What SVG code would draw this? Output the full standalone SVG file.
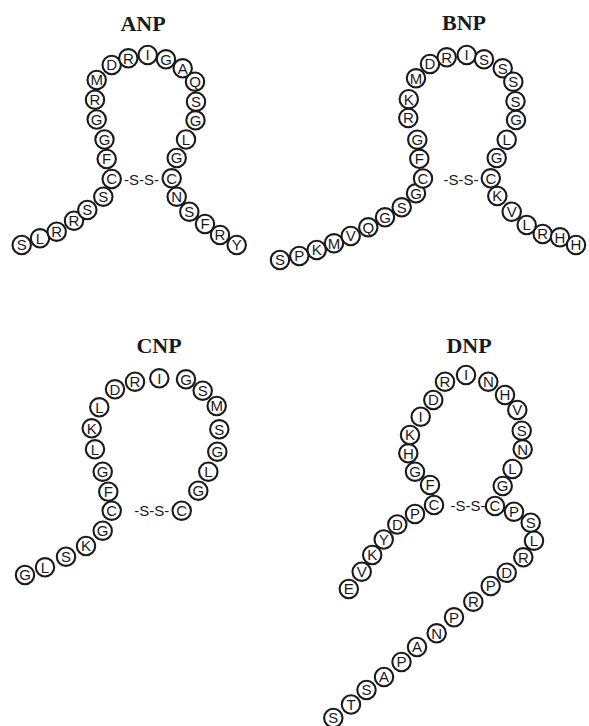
<svg xmlns="http://www.w3.org/2000/svg" width="589" height="726" viewBox="0 0 589 726">
<style>
.r circle{fill:#fff;stroke:#1a1a1a;stroke-width:2.1}
.r text{font-family:"Liberation Sans",Arial,sans-serif;font-size:15px;text-anchor:middle;fill:#1a1a1a}
.t{font-family:"Liberation Serif","Times New Roman",serif;font-weight:bold;font-size:22px;text-anchor:middle;fill:#1a1a1a}
.ss{font-family:"Liberation Sans",Arial,sans-serif;font-size:15px;text-anchor:middle;fill:#1a1a1a}
</style>
<rect width="589" height="726" fill="#fff"/>
<g id="titles">
<text class="t" x="143" y="31">ANP</text>
<text class="t" x="464" y="30">BNP</text>
<text class="t" x="159" y="353">CNP</text>
<text class="t" x="469" y="353">DNP</text>
</g>
<g id="connectors">
<text class="ss" x="141.5" y="184.5">-S-S-</text>
<text class="ss" x="461" y="184.5">-S-S-</text>
<text class="ss" x="151.7" y="516">-S-S-</text>
<text class="ss" x="468" y="510.5">-S-S-</text>
</g>
<g id="ANP">
<g id="anp-01" class="r"><circle cx="21.7" cy="245" r="9.2"/><text x="21.7" y="250.4">S</text></g>
<g id="anp-02" class="r"><circle cx="40" cy="238.3" r="9.2"/><text x="40" y="243.7">L</text></g>
<g id="anp-03" class="r"><circle cx="56.7" cy="231.7" r="9.2"/><text x="56.7" y="237.1">R</text></g>
<g id="anp-04" class="r"><circle cx="74" cy="220.7" r="9.2"/><text x="74" y="226.1">R</text></g>
<g id="anp-05" class="r"><circle cx="87.3" cy="210" r="9.2"/><text x="87.3" y="215.4">S</text></g>
<g id="anp-06" class="r"><circle cx="103.3" cy="196.7" r="9.2"/><text x="103.3" y="202.1">S</text></g>
<g id="anp-07" class="r"><circle cx="111.7" cy="179" r="9.2"/><text x="111.7" y="184.4">C</text></g>
<g id="anp-08" class="r"><circle cx="106.7" cy="159" r="9.2"/><text x="106.7" y="164.4">F</text></g>
<g id="anp-09" class="r"><circle cx="104.5" cy="139.5" r="9.2"/><text x="104.5" y="144.9">G</text></g>
<g id="anp-10" class="r"><circle cx="96.7" cy="119.5" r="9.2"/><text x="96.7" y="124.9">G</text></g>
<g id="anp-11" class="r"><circle cx="95" cy="99.7" r="9.2"/><text x="95" y="105.1">R</text></g>
<g id="anp-12" class="r"><circle cx="96.7" cy="80" r="9.2"/><text x="96.7" y="85.4">M</text></g>
<g id="anp-13" class="r"><circle cx="111.7" cy="65" r="9.2"/><text x="111.7" y="70.4">D</text></g>
<g id="anp-14" class="r"><circle cx="128.3" cy="58.3" r="9.2"/><text x="128.3" y="63.7">R</text></g>
<g id="anp-15" class="r"><circle cx="147.7" cy="55" r="9.2"/><text x="147.7" y="60.4">I</text></g>
<g id="anp-16" class="r"><circle cx="166" cy="59.3" r="9.2"/><text x="166" y="64.7">G</text></g>
<g id="anp-17" class="r"><circle cx="182.7" cy="68.3" r="9.2"/><text x="182.7" y="73.7">A</text></g>
<g id="anp-18" class="r"><circle cx="195" cy="81.7" r="9.2"/><text x="195" y="87.1">Q</text></g>
<g id="anp-19" class="r"><circle cx="196" cy="101.7" r="9.2"/><text x="196" y="107.1">S</text></g>
<g id="anp-20" class="r"><circle cx="195.5" cy="120.3" r="9.2"/><text x="195.5" y="125.7">G</text></g>
<g id="anp-21" class="r"><circle cx="186" cy="139.5" r="9.2"/><text x="186" y="144.9">L</text></g>
<g id="anp-22" class="r"><circle cx="176.7" cy="158" r="9.2"/><text x="176.7" y="163.4">G</text></g>
<g id="anp-23" class="r"><circle cx="171.7" cy="178.3" r="9.2"/><text x="171.7" y="183.7">C</text></g>
<g id="anp-24" class="r"><circle cx="176.7" cy="196.7" r="9.2"/><text x="176.7" y="202.1">N</text></g>
<g id="anp-25" class="r"><circle cx="189.3" cy="211.7" r="9.2"/><text x="189.3" y="217.1">S</text></g>
<g id="anp-26" class="r"><circle cx="205" cy="224" r="9.2"/><text x="205" y="229.4">F</text></g>
<g id="anp-27" class="r"><circle cx="220" cy="235" r="9.2"/><text x="220" y="240.4">R</text></g>
<g id="anp-28" class="r"><circle cx="236.7" cy="245" r="9.2"/><text x="236.7" y="250.4">Y</text></g>
</g>
<g id="BNP">
<g id="bnp-01" class="r"><circle cx="280" cy="260" r="9.2"/><text x="280" y="265.4">S</text></g>
<g id="bnp-02" class="r"><circle cx="299.3" cy="256" r="9.2"/><text x="299.3" y="261.4">P</text></g>
<g id="bnp-03" class="r"><circle cx="316.7" cy="250" r="9.2"/><text x="316.7" y="255.4">K</text></g>
<g id="bnp-04" class="r"><circle cx="334" cy="243.3" r="9.2"/><text x="334" y="248.7">M</text></g>
<g id="bnp-05" class="r"><circle cx="350.7" cy="236" r="9.2"/><text x="350.7" y="241.4">V</text></g>
<g id="bnp-06" class="r"><circle cx="368.3" cy="227.3" r="9.2"/><text x="368.3" y="232.7">Q</text></g>
<g id="bnp-07" class="r"><circle cx="385" cy="217.3" r="9.2"/><text x="385" y="222.7">G</text></g>
<g id="bnp-08" class="r"><circle cx="401.7" cy="207.3" r="9.2"/><text x="401.7" y="212.7">S</text></g>
<g id="bnp-09" class="r"><circle cx="416" cy="193.3" r="9.2"/><text x="416" y="198.7">G</text></g>
<g id="bnp-10" class="r"><circle cx="423" cy="178.5" r="9.2"/><text x="423" y="183.9">C</text></g>
<g id="bnp-11" class="r"><circle cx="419.3" cy="158.8" r="9.2"/><text x="419.3" y="164.2">F</text></g>
<g id="bnp-12" class="r"><circle cx="417.3" cy="139.7" r="9.2"/><text x="417.3" y="145.1">G</text></g>
<g id="bnp-13" class="r"><circle cx="408.3" cy="118" r="9.2"/><text x="408.3" y="123.4">R</text></g>
<g id="bnp-14" class="r"><circle cx="408.8" cy="99.2" r="9.2"/><text x="408.8" y="104.6">K</text></g>
<g id="bnp-15" class="r"><circle cx="416" cy="78.3" r="9.2"/><text x="416" y="83.7">M</text></g>
<g id="bnp-16" class="r"><circle cx="430" cy="64" r="9.2"/><text x="430" y="69.4">D</text></g>
<g id="bnp-17" class="r"><circle cx="446.7" cy="57.3" r="9.2"/><text x="446.7" y="62.7">R</text></g>
<g id="bnp-18" class="r"><circle cx="466.7" cy="55" r="9.2"/><text x="466.7" y="60.4">I</text></g>
<g id="bnp-19" class="r"><circle cx="484" cy="59.3" r="9.2"/><text x="484" y="64.7">S</text></g>
<g id="bnp-20" class="r"><circle cx="502.7" cy="68.3" r="9.2"/><text x="502.7" y="73.7">S</text></g>
<g id="bnp-21" class="r"><circle cx="513.3" cy="81.7" r="9.2"/><text x="513.3" y="87.1">S</text></g>
<g id="bnp-22" class="r"><circle cx="515.5" cy="101.2" r="9.2"/><text x="515.5" y="106.6">S</text></g>
<g id="bnp-23" class="r"><circle cx="516" cy="120" r="9.2"/><text x="516" y="125.4">G</text></g>
<g id="bnp-24" class="r"><circle cx="506.7" cy="139.7" r="9.2"/><text x="506.7" y="145.1">L</text></g>
<g id="bnp-25" class="r"><circle cx="496.7" cy="158" r="9.2"/><text x="496.7" y="163.4">G</text></g>
<g id="bnp-26" class="r"><circle cx="490.8" cy="178.3" r="9.2"/><text x="490.8" y="183.7">C</text></g>
<g id="bnp-27" class="r"><circle cx="497.3" cy="196" r="9.2"/><text x="497.3" y="201.4">K</text></g>
<g id="bnp-28" class="r"><circle cx="511.7" cy="211.7" r="9.2"/><text x="511.7" y="217.1">V</text></g>
<g id="bnp-29" class="r"><circle cx="526.7" cy="225" r="9.2"/><text x="526.7" y="230.4">L</text></g>
<g id="bnp-30" class="r"><circle cx="542.7" cy="234" r="9.2"/><text x="542.7" y="239.4">R</text></g>
<g id="bnp-31" class="r"><circle cx="560" cy="237.3" r="9.2"/><text x="560" y="242.7">H</text></g>
<g id="bnp-32" class="r"><circle cx="576" cy="245" r="9.2"/><text x="576" y="250.4">H</text></g>
</g>
<g id="CNP">
<g id="cnp-01" class="r"><circle cx="25" cy="575" r="9.2"/><text x="25" y="580.4">G</text></g>
<g id="cnp-02" class="r"><circle cx="45" cy="567.3" r="9.2"/><text x="45" y="572.7">L</text></g>
<g id="cnp-03" class="r"><circle cx="66" cy="556.7" r="9.2"/><text x="66" y="562.1">S</text></g>
<g id="cnp-04" class="r"><circle cx="86" cy="546" r="9.2"/><text x="86" y="551.4">K</text></g>
<g id="cnp-05" class="r"><circle cx="102.7" cy="530.7" r="9.2"/><text x="102.7" y="536.1">G</text></g>
<g id="cnp-06" class="r"><circle cx="111.7" cy="510.7" r="9.2"/><text x="111.7" y="516.1">C</text></g>
<g id="cnp-07" class="r"><circle cx="108.3" cy="491.7" r="9.2"/><text x="108.3" y="497.1">F</text></g>
<g id="cnp-08" class="r"><circle cx="102.7" cy="471.7" r="9.2"/><text x="102.7" y="477.1">G</text></g>
<g id="cnp-09" class="r"><circle cx="95" cy="449.3" r="9.2"/><text x="95" y="454.7">L</text></g>
<g id="cnp-10" class="r"><circle cx="91.7" cy="428.3" r="9.2"/><text x="91.7" y="433.7">K</text></g>
<g id="cnp-11" class="r"><circle cx="99.3" cy="407.3" r="9.2"/><text x="99.3" y="412.7">L</text></g>
<g id="cnp-12" class="r"><circle cx="115" cy="389.3" r="9.2"/><text x="115" y="394.7">D</text></g>
<g id="cnp-13" class="r"><circle cx="135" cy="381.7" r="9.2"/><text x="135" y="387.1">R</text></g>
<g id="cnp-14" class="r"><circle cx="159.3" cy="378.3" r="9.2"/><text x="159.3" y="383.7">I</text></g>
<g id="cnp-15" class="r"><circle cx="186" cy="379.3" r="9.2"/><text x="186" y="384.7">G</text></g>
<g id="cnp-16" class="r"><circle cx="202.7" cy="390.7" r="9.2"/><text x="202.7" y="396.1">S</text></g>
<g id="cnp-17" class="r"><circle cx="216.7" cy="406" r="9.2"/><text x="216.7" y="411.4">M</text></g>
<g id="cnp-18" class="r"><circle cx="219.3" cy="429.3" r="9.2"/><text x="219.3" y="434.7">S</text></g>
<g id="cnp-19" class="r"><circle cx="217.3" cy="451.7" r="9.2"/><text x="217.3" y="457.1">G</text></g>
<g id="cnp-20" class="r"><circle cx="208.3" cy="471.7" r="9.2"/><text x="208.3" y="477.1">L</text></g>
<g id="cnp-21" class="r"><circle cx="198.3" cy="490.7" r="9.2"/><text x="198.3" y="496.1">G</text></g>
<g id="cnp-22" class="r"><circle cx="181.7" cy="510.7" r="9.2"/><text x="181.7" y="516.1">C</text></g>
</g>
<g id="DNP">
<g id="dnp-01" class="r"><circle cx="348.8" cy="589" r="9.2"/><text x="348.8" y="594.4">E</text></g>
<g id="dnp-02" class="r"><circle cx="361.7" cy="571.7" r="9.2"/><text x="361.7" y="577.1">V</text></g>
<g id="dnp-03" class="r"><circle cx="372.2" cy="555" r="9.2"/><text x="372.2" y="560.4">K</text></g>
<g id="dnp-04" class="r"><circle cx="383.7" cy="539.5" r="9.2"/><text x="383.7" y="544.9">Y</text></g>
<g id="dnp-05" class="r"><circle cx="397.3" cy="524.5" r="9.2"/><text x="397.3" y="529.9">D</text></g>
<g id="dnp-06" class="r"><circle cx="415" cy="514" r="9.2"/><text x="415" y="519.4">P</text></g>
<g id="dnp-07" class="r"><circle cx="434" cy="505" r="9.2"/><text x="434" y="510.4">C</text></g>
<g id="dnp-08" class="r"><circle cx="430" cy="485" r="9.2"/><text x="430" y="490.4">F</text></g>
<g id="dnp-09" class="r"><circle cx="415" cy="471.7" r="9.2"/><text x="415" y="477.1">G</text></g>
<g id="dnp-10" class="r"><circle cx="408.3" cy="453.3" r="9.2"/><text x="408.3" y="458.7">H</text></g>
<g id="dnp-11" class="r"><circle cx="410" cy="435" r="9.2"/><text x="410" y="440.4">K</text></g>
<g id="dnp-12" class="r"><circle cx="420.7" cy="416.7" r="9.2"/><text x="420.7" y="422.1">I</text></g>
<g id="dnp-13" class="r"><circle cx="433.3" cy="400" r="9.2"/><text x="433.3" y="405.4">D</text></g>
<g id="dnp-14" class="r"><circle cx="445" cy="381.7" r="9.2"/><text x="445" y="387.1">R</text></g>
<g id="dnp-15" class="r"><circle cx="466" cy="375" r="9.2"/><text x="466" y="380.4">I</text></g>
<g id="dnp-16" class="r"><circle cx="488.3" cy="381.7" r="9.2"/><text x="488.3" y="387.1">N</text></g>
<g id="dnp-17" class="r"><circle cx="505" cy="395" r="9.2"/><text x="505" y="400.4">H</text></g>
<g id="dnp-18" class="r"><circle cx="517.3" cy="410" r="9.2"/><text x="517.3" y="415.4">V</text></g>
<g id="dnp-19" class="r"><circle cx="521.7" cy="430.7" r="9.2"/><text x="521.7" y="436.1">S</text></g>
<g id="dnp-20" class="r"><circle cx="522.7" cy="449.3" r="9.2"/><text x="522.7" y="454.7">N</text></g>
<g id="dnp-21" class="r"><circle cx="512.5" cy="469" r="9.2"/><text x="512.5" y="474.4">L</text></g>
<g id="dnp-22" class="r"><circle cx="502.7" cy="486" r="9.2"/><text x="502.7" y="491.4">G</text></g>
<g id="dnp-23" class="r"><circle cx="495" cy="506" r="9.2"/><text x="495" y="511.4">C</text></g>
<g id="dnp-24" class="r"><circle cx="514" cy="511.7" r="9.2"/><text x="514" y="517.1">P</text></g>
<g id="dnp-25" class="r"><circle cx="530.7" cy="522.7" r="9.2"/><text x="530.7" y="528.1">S</text></g>
<g id="dnp-26" class="r"><circle cx="534" cy="540.7" r="9.2"/><text x="534" y="546.1">L</text></g>
<g id="dnp-27" class="r"><circle cx="523.3" cy="557.3" r="9.2"/><text x="523.3" y="562.7">R</text></g>
<g id="dnp-28" class="r"><circle cx="506.7" cy="572.7" r="9.2"/><text x="506.7" y="578.1">D</text></g>
<g id="dnp-29" class="r"><circle cx="490.7" cy="586" r="9.2"/><text x="490.7" y="591.4">P</text></g>
<g id="dnp-30" class="r"><circle cx="473.3" cy="601.7" r="9.2"/><text x="473.3" y="607.1">R</text></g>
<g id="dnp-31" class="r"><circle cx="454" cy="617.3" r="9.2"/><text x="454" y="622.7">P</text></g>
<g id="dnp-32" class="r"><circle cx="436.7" cy="633.3" r="9.2"/><text x="436.7" y="638.7">N</text></g>
<g id="dnp-33" class="r"><circle cx="417" cy="647" r="9.2"/><text x="417" y="652.4">A</text></g>
<g id="dnp-34" class="r"><circle cx="401.5" cy="662" r="9.2"/><text x="401.5" y="667.4">P</text></g>
<g id="dnp-35" class="r"><circle cx="384" cy="677" r="9.2"/><text x="384" y="682.4">A</text></g>
<g id="dnp-36" class="r"><circle cx="366.5" cy="690" r="9.2"/><text x="366.5" y="695.4">S</text></g>
<g id="dnp-37" class="r"><circle cx="351" cy="704.5" r="9.2"/><text x="351" y="709.9">T</text></g>
<g id="dnp-38" class="r"><circle cx="333.3" cy="718" r="9.2"/><text x="333.3" y="723.4">S</text></g>
</g>
</svg>
